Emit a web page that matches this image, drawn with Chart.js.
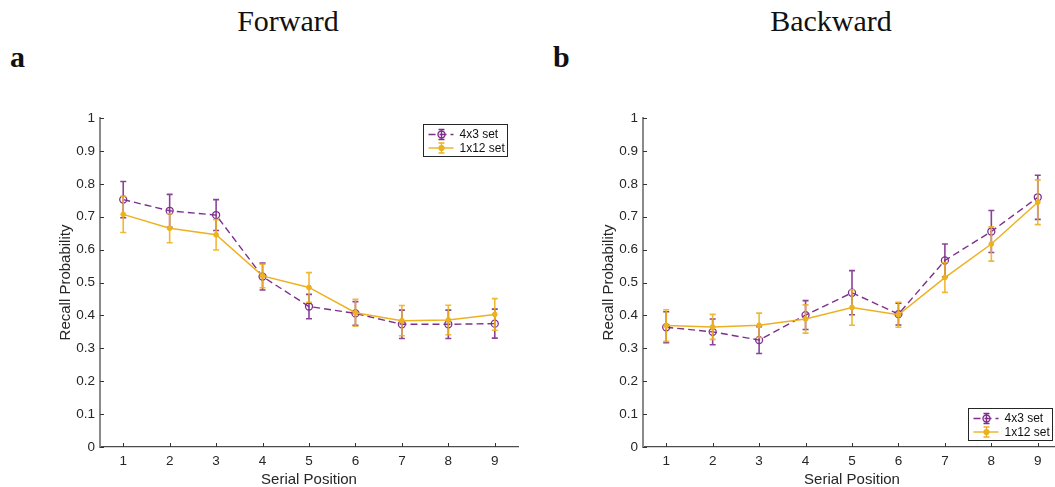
<!DOCTYPE html>
<html>
<head>
<meta charset="utf-8">
<script src="https://cdn.jsdelivr.net/npm/chart.js@4/dist/chart.umd.min.js"></script>
<style>
  body { margin: 0; width: 1055px; height: 487px; overflow: hidden; background: #fff; position: relative; }
  .title { position: absolute; top: 6px; width: 220px; text-align: center; font: 30px/30px 'Liberation Serif', 'Times New Roman', serif; color: #111; }
  .tag { position: absolute; top: 42px; font: bold 30px/30px 'Liberation Serif', 'Times New Roman', serif; color: #111; }
  canvas { position: absolute; top: 80px; }
</style>
</head>
<body>
<div class="title" style="left:178px">Forward</div>
<div class="title" style="left:721px">Backward</div>
<div class="tag" style="left:10px">a</div>
<div class="tag" style="left:553px">b</div>
<canvas id="forward" width="527" height="407" style="left:0"></canvas>
<canvas id="backward" width="527" height="407" style="left:543px"></canvas>
<script>
const positions = ['1', '2', '3', '4', '5', '6', '7', '8', '9'];
const yTicks = [0, 0.1, 0.2, 0.3, 0.4, 0.5, 0.6, 0.7, 0.8, 0.9, 1];
const yTickLabels = ['0', '0.1', '0.2', '0.3', '0.4', '0.5', '0.6', '0.7', '0.8', '0.9', '1'];
const seriesNames = ['4x3 set', '1x12 set'];

// forward recall
const fwdGrouped = [0.752, 0.718, 0.705, 0.518, 0.427, 0.406, 0.373, 0.373, 0.375];
const fwdGroupedErr = [0.055, 0.050, 0.047, 0.041, 0.037, 0.036, 0.043, 0.043, 0.044];
const fwdFlat = [0.707, 0.665, 0.645, 0.520, 0.485, 0.408, 0.384, 0.386, 0.403];
const fwdFlatErr = [0.055, 0.044, 0.046, 0.036, 0.045, 0.041, 0.046, 0.045, 0.048];

// backward recall
const bwdGrouped = [0.364, 0.350, 0.325, 0.401, 0.469, 0.404, 0.567, 0.655, 0.759];
const bwdGroupedErr = [0.047, 0.039, 0.041, 0.044, 0.067, 0.033, 0.050, 0.064, 0.067];
const bwdFlat = [0.369, 0.365, 0.370, 0.389, 0.424, 0.402, 0.515, 0.617, 0.744];
const bwdFlatErr = [0.048, 0.038, 0.037, 0.043, 0.054, 0.038, 0.045, 0.052, 0.068];

const PURPLE = '#7E2F8E';
const GOLD = '#EDB120';
const SANS = "'Liberation Sans', Arial, sans-serif";
const AXIS = '#333333';

function capBar(ctx, x, yTop, yBot, half) {
  ctx.beginPath();
  ctx.moveTo(x, yTop); ctx.lineTo(x, yBot);
  ctx.moveTo(x - half, yTop); ctx.lineTo(x + half, yTop);
  ctx.moveTo(x - half, yBot); ctx.lineTo(x + half, yBot);
  ctx.stroke();
}

// vertical error bars, drawn right after each line so stacking follows dataset order
const errorBars = {
  id: 'errorBars',
  afterDatasetDraw(chart, args) {
    const ds = chart.data.datasets[args.index];
    if (!ds.errors) return;
    const y = chart.scales.y;
    const ctx = chart.ctx;
    ctx.save();
    ctx.strokeStyle = ds.borderColor;
    ctx.globalAlpha = 0.9;
    ctx.lineWidth = 1.6;
    args.meta.data.forEach((pt, i) => {
      const v = ds.data[i];
      const e = ds.errors[i];
      capBar(ctx, pt.x, y.getPixelForValue(v + e), y.getPixelForValue(v - e), 3);
    });
    ctx.restore();
  },
};

// short tick marks pointing into the plot
const innerTicks = {
  id: 'innerTicks',
  afterDraw(chart) {
    const { ctx, chartArea, scales } = chart;
    ctx.save();
    ctx.strokeStyle = AXIS;
    ctx.lineWidth = 1;
    ctx.beginPath();
    scales.x.ticks.forEach((t, i) => {
      const px = Math.round(scales.x.getPixelForTick(i)) + 0.5;
      ctx.moveTo(px, chartArea.bottom);
      ctx.lineTo(px, chartArea.bottom - 4);
    });
    scales.y.ticks.forEach((t) => {
      const py = Math.round(scales.y.getPixelForValue(t.value)) + 0.5;
      ctx.moveTo(chartArea.left, py);
      ctx.lineTo(chartArea.left + 4, py);
    });
    ctx.stroke();
    ctx.restore();
  },
};

// boxed legend with line, marker and error glyph per series
const boxLegend = {
  id: 'boxLegend',
  afterDraw(chart, args, opts) {
    const { ctx, chartArea } = chart;
    const w = 84, h = 32;
    const x = Math.round(chartArea.right - opts.right - w) + 0.5;
    const y = Math.round(opts.top != null ? chartArea.top + opts.top : chartArea.bottom - opts.bottom - h) + 0.5;
    ctx.save();
    ctx.fillStyle = '#fff';
    ctx.fillRect(x, y, w, h);
    ctx.strokeStyle = '#262626';
    ctx.lineWidth = 1;
    ctx.strokeRect(x, y, w, h);
    chart.data.datasets.forEach((ds, i) => {
      const cy = y + 10 + i * 13.5;
      const mx = x + 18;
      ctx.strokeStyle = ds.borderColor;
      ctx.lineWidth = 1.4;
      ctx.setLineDash(ds.borderDash || []);
      ctx.beginPath();
      ctx.moveTo(x + 5, cy); ctx.lineTo(x + 30, cy);
      ctx.stroke();
      ctx.setLineDash([]);
      capBar(ctx, mx, cy - 5, cy + 5, 3);
      ctx.beginPath();
      ctx.arc(mx, cy, ds.pointRadius, 0, Math.PI * 2);
      if (ds.pointBackgroundColor !== 'transparent') {
        ctx.fillStyle = ds.pointBackgroundColor;
        ctx.fill();
      }
      ctx.stroke();
      ctx.fillStyle = '#111';
      ctx.font = '12px ' + SANS;
      ctx.textBaseline = 'middle';
      ctx.fillText(ds.label, x + 36, cy + 0.5);
    });
    ctx.restore();
  },
};

function makePanel(canvasId, grouped, groupedErr, flat, flatErr, legendPos) {
  return new Chart(document.getElementById(canvasId), {
    type: 'line',
    data: {
      labels: positions,
      datasets: [
        {
          label: seriesNames[0],
          data: grouped,
          errors: groupedErr,
          order: 1,
          borderColor: PURPLE,
          borderWidth: 1.4,
          borderDash: [7, 4],
          pointRadius: 3.5,
          pointBorderWidth: 1.3,
          pointBorderColor: PURPLE,
          pointBackgroundColor: 'transparent',
          tension: 0,
        },
        {
          label: seriesNames[1],
          data: flat,
          errors: flatErr,
          order: 0,
          borderColor: GOLD,
          borderWidth: 1.5,
          pointRadius: 2.4,
          pointBorderWidth: 1,
          pointBorderColor: GOLD,
          pointBackgroundColor: GOLD,
          tension: 0,
        },
      ],
    },
    options: {
      responsive: false,
      animation: false,
      devicePixelRatio: 1,
      layout: { padding: { top: 38, right: 9, left: 0, bottom: 0 } },
      plugins: {
        legend: { display: false },
        tooltip: { enabled: false },
        boxLegend: legendPos,
      },
      scales: {
        x: {
          type: 'category',
          offset: true,
          grid: { display: false, drawTicks: false },
          border: { display: true, color: '#4d4d4d', width: 1.2 },
          ticks: { color: '#262626', padding: 6, font: { family: SANS, size: 13.5 } },
          title: {
            display: true,
            text: 'Serial Position',
            color: '#262626',
            padding: { top: 0, bottom: -2 },
            font: { family: SANS, size: 15 },
          },
          afterFit: (s) => { s.height = 40; },
        },
        y: {
          type: 'linear',
          min: 0,
          max: 1,
          grid: { display: false, drawTicks: false },
          border: { display: true, color: '#8a8a8a', width: 2 },
          afterBuildTicks: (s) => { s.ticks = yTicks.map((v) => ({ value: v })); },
          ticks: {
            color: '#262626',
            padding: 5,
            font: { family: SANS, size: 13.5 },
            callback: (v) => yTickLabels[yTicks.indexOf(v)],
          },
          title: {
            display: true,
            text: 'Recall Probability',
            color: '#262626',
            padding: { top: 57, bottom: 0 },
            font: { family: SANS, size: 15 },
          },
          afterFit: (s) => { s.width = 100; },
        },
      },
    },
    plugins: [errorBars, innerTicks, boxLegend],
  });
}

makePanel('forward', fwdGrouped, fwdGroupedErr, fwdFlat, fwdFlatErr, { right: 11, top: 6 });
makePanel('backward', bwdGrouped, bwdGroupedErr, bwdFlat, bwdFlatErr, { right: 9, bottom: 7 });
</script>
</body>
</html>
